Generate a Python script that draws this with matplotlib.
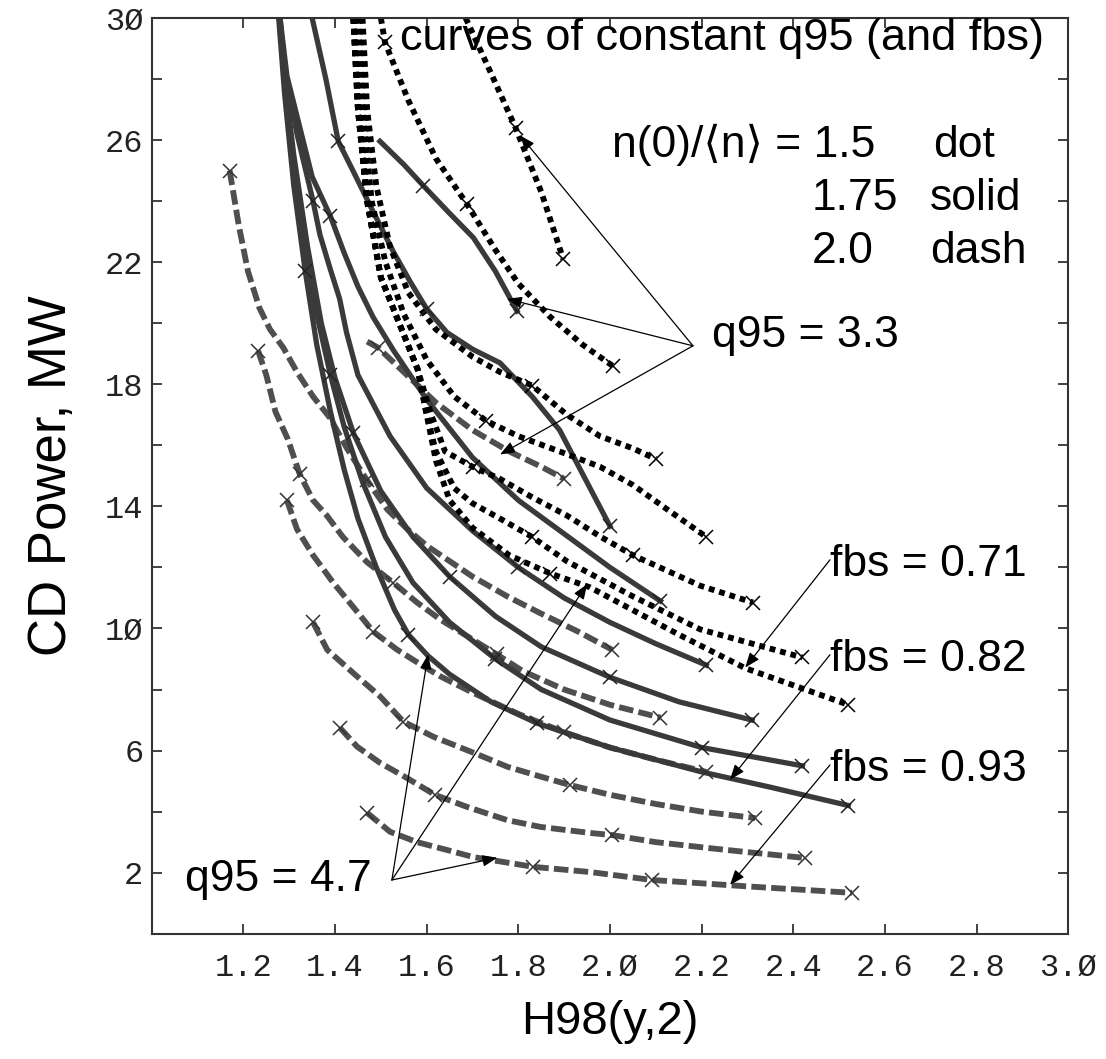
import numpy as np
import matplotlib.pyplot as plt

# --- data: CD power (MW) vs H98(y,2) ---
# dotted family, n(0)/<n> = 1.5  (q95 = 3.3 ... 4.7, top to bottom)
dot_x = [
    [1.685, 1.74, 1.794, 1.85, 1.898],
    [1.50, 1.509, 1.56, 1.62, 1.688, 1.75, 1.80, 1.87, 1.94, 2.006],
    [1.46, 1.47, 1.49, 1.52, 1.56, 1.62, 1.70, 1.76, 1.83, 1.906, 1.978, 2.05, 2.10],
    [1.45, 1.46, 1.48, 1.51, 1.55, 1.60, 1.66, 1.73, 1.80, 1.89, 1.978, 2.05, 2.125, 2.21],
    [1.44, 1.45, 1.47, 1.50, 1.54, 1.58, 1.61, 1.64, 1.70, 1.76, 1.83, 1.906, 1.98, 2.05, 2.197, 2.312],
    [1.44, 1.45, 1.47, 1.50, 1.54, 1.58, 1.60, 1.62, 1.66, 1.70, 1.76, 1.83, 1.906, 2.05, 2.197, 2.42],
    [1.44, 1.45, 1.47, 1.50, 1.54, 1.58, 1.60, 1.62, 1.65, 1.70, 1.78, 1.87, 1.956, 2.05, 2.15, 2.295, 2.52],
]
dot_y = [
    [30.0, 28.2, 26.4, 24.3, 22.1],
    [30.0, 29.2, 27.3, 25.4, 23.9, 22.4, 21.3, 20.2, 19.3, 18.6],
    [30.0, 27.0, 24.5, 22.5, 21.0, 19.8, 18.9, 18.4, 17.96, 17.0, 16.3, 15.9, 15.55],
    [30.0, 27.0, 24.0, 22.0, 20.3, 18.8, 17.6, 16.8, 16.3, 15.8, 15.3, 14.7, 13.9, 13.0],
    [30.0, 27.0, 24.0, 21.5, 20.0, 18.5, 17.0, 15.8, 15.3, 14.9, 14.3, 13.7, 13.0, 12.4, 11.4, 10.85],
    [30.0, 27.0, 24.0, 21.5, 20.0, 18.5, 17.0, 15.8, 14.6, 14.1, 13.6, 13.0, 12.2, 11.05, 9.97, 9.05],
    [30.0, 27.0, 24.0, 21.5, 20.0, 18.5, 17.0, 15.5, 14.2, 13.3, 12.4, 11.8, 11.35, 10.6, 9.8, 8.7, 7.5],
]
dot_mx = [1.794, 1.898, 1.509, 1.688, 2.006, 1.83, 2.10, 1.73, 2.21, 1.70, 2.05, 2.312, 1.83, 2.42, 1.87, 2.52]
dot_my = [26.4, 22.1, 29.2, 23.9, 18.6, 17.96, 15.55, 16.8, 13.0, 15.3, 12.4, 10.85, 13.0, 9.05, 11.8, 7.5]

# solid family, n(0)/<n> = 1.75
sol_x = [
    [1.498, 1.55, 1.593, 1.65, 1.702, 1.75, 1.797],
    [1.35, 1.38, 1.407, 1.44, 1.483, 1.527, 1.564, 1.60, 1.644, 1.70, 1.76, 1.83, 1.89, 2.0],
    [1.28, 1.295, 1.35, 1.39, 1.42, 1.45, 1.483, 1.528, 1.60, 1.70, 1.80, 1.90, 2.0, 2.11],
    [1.278, 1.29, 1.317, 1.352, 1.367, 1.389, 1.41, 1.425, 1.45, 1.52, 1.60, 1.70, 1.80, 1.90, 2.0, 2.1, 2.21],
    [1.28, 1.29, 1.31, 1.34, 1.37, 1.40, 1.44, 1.50, 1.57, 1.65, 1.75, 1.85, 2.0, 2.15, 2.31],
    [1.28, 1.29, 1.31, 1.335, 1.36, 1.39, 1.42, 1.46, 1.51, 1.57, 1.65, 1.75, 1.85, 2.0, 2.2, 2.42],
    [1.277, 1.29, 1.31, 1.335, 1.36, 1.39, 1.42, 1.45, 1.49, 1.53, 1.56, 1.603, 1.65, 1.74, 1.84, 2.0, 2.2, 2.35, 2.52],
]
sol_y = [
    [25.96, 25.2, 24.5, 23.6, 22.8, 21.7, 20.4],
    [30.0, 28.0, 25.96, 24.97, 23.66, 22.35, 21.36, 20.47, 19.7, 19.15, 18.7, 17.6, 16.5, 13.35],
    [30.0, 28.1, 24.8, 23.5, 22.3, 21.2, 20.2, 19.1, 17.5, 15.6, 14.2, 13.1, 12.0, 10.9],
    [30.0, 28.4, 26.2, 24.0, 22.9, 21.8, 20.8, 19.7, 18.3, 16.3, 14.6, 13.2, 12.0, 11.0, 10.2, 9.5, 8.8],
    [30.0, 28.0, 25.5, 22.5, 20.0, 18.2, 16.4, 14.5, 13.0, 11.7, 10.4, 9.4, 8.4, 7.6, 7.0],
    [30.0, 27.8, 25.0, 22.5, 20.3, 18.3, 16.6, 14.8, 13.0, 11.5, 10.2, 9.0, 8.0, 7.0, 6.1, 5.5],
    [30.0, 27.5, 24.5, 21.7, 19.3, 17.1, 15.2, 13.6, 12.0, 10.6, 9.8, 9.1, 8.5, 7.6, 6.9, 6.1, 5.3, 4.8, 4.2],
]
sol_mx = [1.593, 1.797, 1.407, 1.60, 2.0, 1.39, 2.11, 1.352, 1.80, 2.21, 1.44, 1.65, 2.0, 2.31, 1.39, 1.75, 2.2, 2.42, 1.335, 1.56, 1.84, 2.52]
sol_my = [24.5, 20.4, 25.96, 20.47, 13.35, 23.5, 10.9, 24.0, 12.0, 8.8, 16.4, 11.7, 8.4, 7.0, 18.3, 9.0, 6.1, 5.5, 21.7, 9.8, 6.9, 4.2]

# dashed family, n(0)/<n> = 2.0
das_x = [
    [1.47, 1.494, 1.55, 1.62, 1.70, 1.78, 1.85, 1.90],
    [1.17, 1.19, 1.21, 1.235, 1.258, 1.287, 1.317, 1.352, 1.389, 1.426, 1.47, 1.514, 1.558, 1.601, 1.70, 1.776, 1.848, 1.93, 2.005],
    [1.232, 1.25, 1.27, 1.297, 1.323, 1.352, 1.382, 1.417, 1.47, 1.527, 1.579, 1.629, 1.70, 1.753, 1.81, 1.90, 2.0, 2.11],
    [1.295, 1.317, 1.352, 1.396, 1.44, 1.483, 1.535, 1.592, 1.63, 1.70, 1.80, 1.90, 2.0, 2.1, 2.21],
    [1.352, 1.383, 1.448, 1.498, 1.549, 1.615, 1.702, 1.776, 1.848, 1.913, 2.0, 2.1, 2.2, 2.317],
    [1.411, 1.448, 1.498, 1.557, 1.618, 1.687, 1.776, 1.848, 1.957, 2.005, 2.1, 2.25, 2.426],
    [1.47, 1.52, 1.579, 1.645, 1.702, 1.833, 1.957, 2.092, 2.3, 2.528],
]
das_y = [
    [19.4, 19.2, 18.4, 17.4, 16.5, 15.8, 15.3, 14.9],
    [25.0, 23.2, 21.7, 20.5, 19.8, 19.2, 18.4, 17.6, 16.9, 15.9, 14.85, 13.9, 13.25, 12.7, 11.7, 11.05, 10.5, 9.9, 9.3],
    [19.1, 18.3, 17.1, 16.2, 15.05, 14.2, 13.7, 13.0, 12.17, 11.5, 10.85, 10.3, 9.64, 9.15, 8.6, 8.0, 7.5, 7.08],
    [14.2, 13.25, 12.4, 11.5, 10.7, 9.9, 9.31, 8.77, 8.43, 7.9, 7.2, 6.6, 6.1, 5.7, 5.3],
    [10.2, 9.3, 8.43, 7.78, 6.95, 6.45, 5.93, 5.47, 5.15, 4.87, 4.55, 4.25, 4.0, 3.79],
    [6.74, 6.13, 5.6, 5.1, 4.55, 4.16, 3.72, 3.5, 3.3, 3.23, 3.0, 2.75, 2.48],
    [3.96, 3.34, 3.0, 2.74, 2.51, 2.19, 2.02, 1.76, 1.55, 1.34],
]
das_mx = [1.494, 1.90, 1.17, 1.47, 2.005, 1.232, 1.323, 1.527, 1.753, 2.11, 1.295, 1.483, 1.90, 2.21,
          1.352, 1.549, 1.913, 2.317, 1.411, 1.618, 2.005, 2.426, 1.47, 1.833, 2.092, 2.528]
das_my = [19.2, 14.9, 25.0, 14.85, 9.3, 19.1, 15.05, 11.5, 9.15, 7.08, 14.2, 9.9, 6.6, 5.3,
          10.2, 6.95, 4.87, 3.79, 6.74, 4.55, 3.23, 2.48, 3.96, 2.19, 1.76, 1.34]

x_ticks = [1.0, 1.2, 1.4, 1.6, 1.8, 2.0, 2.2, 2.4, 2.6, 2.8, 3.0]
x_tick_labels = ["", "1.2", "1.4", "1.6", "1.8", "2.Ø", "2.2", "2.4", "2.6", "2.8", "3.Ø"]
y_ticks = list(range(0, 31, 2))
y_tick_labels = ["" if (v % 4 != 2) else ("1Ø" if v == 10 else str(v)) for v in y_ticks]
y_tick_labels[-1] = "3Ø"

plt.rcParams['font.family'] = ['Liberation Sans', 'DejaVu Sans']

fig = plt.figure(figsize=(11.06, 10.59), dpi=100)
ax = fig.add_axes([0.1372, 0.1183, 0.8287, 0.8647])

mk = dict(ls="none", marker="x", ms=10, mew=1.1, zorder=3)
for xs, ys in zip(das_x, das_y):
    ax.plot(xs, ys, color="#4f4f4f", lw=4.2, ls=(0, (2.5, 0.9)), zorder=2)
ax.plot(das_mx, das_my, color="#333333", **mk)
for xs, ys in zip(sol_x, sol_y):
    ax.plot(xs, ys, color="#3a3a3a", lw=3.8, zorder=2, solid_joinstyle="round")
ax.plot(sol_mx, sol_my, color="#222222", **mk)
for xs, ys in zip(dot_x, dot_y):
    ax.plot(xs, ys, color="black", lw=4.2, ls=(0, (1.0, 0.85)), zorder=2)
ax.plot(dot_mx, dot_my, color="black", **mk)

ax.set_xlim(1.0, 3.0)
ax.set_ylim(0, 30)
ax.set_xticks(x_ticks)
ax.set_xticklabels(x_tick_labels)
ax.set_yticks(y_ticks)
ax.set_yticklabels(y_tick_labels)
ax.tick_params(direction="in", length=7, width=1.3, color="#333333",
               top=True, right=True, labelsize=23, labelcolor="#222222")
ax.tick_params(axis="x", pad=14)
ax.tick_params(axis="y", pad=6)
for lab in ax.get_xticklabels() + ax.get_yticklabels():
    lab.set_family("Liberation Mono")
for sp in ax.spines.values():
    sp.set_linewidth(1.5)
    sp.set_color("#333333")

ax.set_xlabel("H98(y,2)", fontsize=34, labelpad=12)
ax.set_ylabel("CD Power, MW", fontsize=38, labelpad=20)

fs = 32
ax.text(1.542, 29.34, "curves of constant q95 (and fbs)", fontsize=32.5, va="center")
ax.text(2.004, 25.83, "n(0)/\u27e8n\u27e9 = 1.5", fontsize=fs, va="center")
ax.text(2.705, 25.83, "dot", fontsize=fs, va="center")
ax.text(2.44, 24.09, "1.75", fontsize=fs, va="center")
ax.text(2.698, 24.09, "solid", fontsize=fs, va="center")
ax.text(2.44, 22.35, "2.0", fontsize=fs, va="center")
ax.text(2.698, 22.35, "dash", fontsize=fs, va="center")

arrow = dict(arrowstyle="-|>,head_length=0.9,head_width=0.35", color="black", lw=0.9,
             shrinkA=0, shrinkB=0)
ax.text(2.222, 19.59, "q95 = 3.3", fontsize=fs, va="center")
for tx, ty in [(1.804, 26.15), (1.775, 20.8), (1.76, 15.7)]:
    ax.annotate("", xy=(tx, ty), xytext=(2.181, 19.26), arrowprops=arrow)
ax.text(1.073, 1.76, "q95 = 4.7", fontsize=fs, va="center")
for tx, ty in [(1.603, 9.15), (1.95, 11.45), (1.754, 2.49)]:
    ax.annotate("", xy=(tx, ty), xytext=(1.524, 1.76), arrowprops=arrow)
for lab, ly, tx, ty in [("fbs = 0.71", 12.1, 2.295, 8.72), ("fbs = 0.82", 8.99, 2.262, 5.05),
                        ("fbs = 0.93", 5.38, 2.262, 1.6)]:
    ax.text(2.48, ly, lab, fontsize=fs, va="center")
    ax.annotate("", xy=(tx, ty), xytext=(2.48, ly + 0.15), arrowprops=arrow)

fig.savefig("out.png", dpi=100)
